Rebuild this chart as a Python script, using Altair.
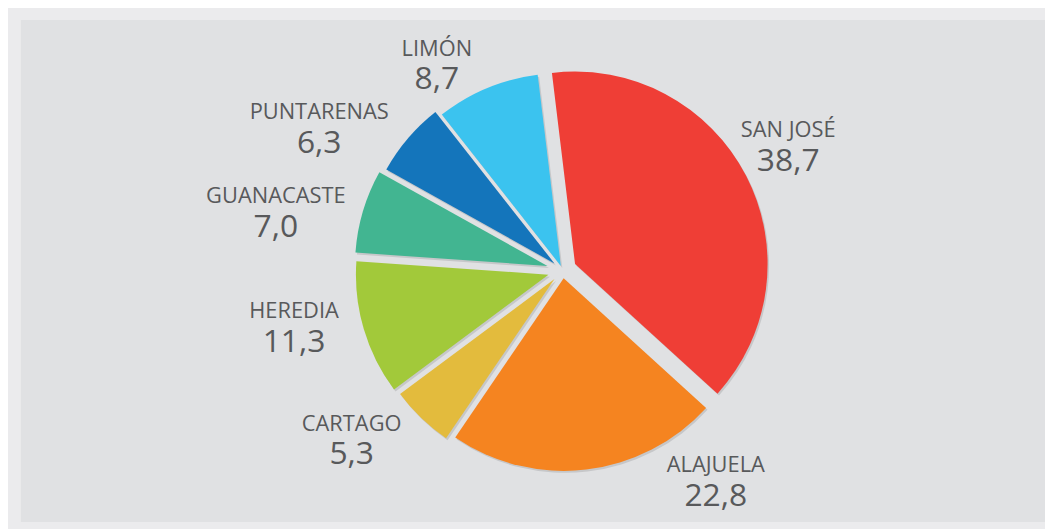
import math
import altair as alt
import pandas as pd

# ---- data ----
regions = ["SAN JOSÉ", "ALAJUELA", "CARTAGO", "HEREDIA", "GUANACASTE", "PUNTARENAS", "LIMÓN"]
shares = [38.7, 22.8, 5.3, 11.3, 7.0, 6.3, 8.7]
value_labels = ["38,7", "22,8", "5,3", "11,3", "7,0", "6,3", "8,7"]
colors = ["#ef3e36", "#f58420", "#e3bb3d", "#a2c93a", "#42b591", "#1475bb", "#3bc3ef"]

# ---- style / layout settings ----
CX, CY = 546.0, 252.5          # pie centre inside the plot panel (px)
R = 194                        # pie radius (px)
START = -6.9 * math.pi / 180   # angle of the first slice edge
explode = {"SAN JOSÉ": 14, "ALAJUELA": 8, "CARTAGO": 12, "HEREDIA": 15,
           "GUANACASTE": 16, "PUNTARENAS": 11, "LIMÓN": 5}
label_shift_deg = {"SAN JOSÉ": -3.3, "ALAJUELA": -30.5, "CARTAGO": 9.0, "HEREDIA": 6.3,
                   "GUANACASTE": -3.3, "PUNTARENAS": -8.6, "LIMÓN": -7.8}
label_radius = {"SAN JOSÉ": 264, "ALAJUELA": 255, "CARTAGO": 267, "HEREDIA": 275,
                "GUANACASTE": 297, "PUNTARENAS": 289, "LIMÓN": 251}
TEXT = "#58595b"
FONT = "Open Sans"

df = pd.DataFrame({
    "idx": list(range(len(regions))),
    "region": regions,
    "share": shares,
    "vlabel": value_labels,
    "explode": [explode[r] for r in regions],
    "lshift": [label_shift_deg[r] for r in regions],
    "lrad": [label_radius[r] for r in regions],
})

base = alt.Chart(df).transform_window(
    cum="sum(share)", sort=[alt.SortField("idx")], frame=[None, 0]
).transform_joinaggregate(
    total="sum(share)"
).transform_calculate(
    mid=f"{START} + 2*PI*(datum.cum - datum.share/2)/datum.total"
).transform_calculate(
    cx=f"{CX} + datum.explode*sin(datum.mid)",
    cy=f"{CY} - datum.explode*cos(datum.mid)",
    la="datum.mid + datum.lshift*PI/180",
).transform_calculate(
    sx="datum.cx + 1.5",
    sy="datum.cy + 2",
    lx=f"{CX} + datum.lrad*sin(datum.la)",
    ly=f"{CY} - datum.lrad*cos(datum.la)",
)

theta = alt.Theta("share:Q", stack=True,
                  scale=alt.Scale(range=[START, START + 2 * math.pi]))
order = alt.Order("idx:Q")

shadow = base.mark_arc(radius=R, color="#c6c7c9").encode(
    theta=theta, order=order,
    x=alt.X("sx:Q", scale=None), y=alt.Y("sy:Q", scale=None),
)

slices = base.mark_arc(radius=R).encode(
    theta=theta, order=order,
    x=alt.X("cx:Q", scale=None), y=alt.Y("cy:Q", scale=None),
    color=alt.Color("region:N", scale=alt.Scale(domain=regions, range=colors), legend=None),
)

names = base.mark_text(font=FONT, fontSize=22, color=TEXT, align="center",
                       baseline="alphabetic").encode(
    x=alt.X("lx:Q", scale=None), y=alt.Y("ly:Q", scale=None), text="region:N")

values = base.mark_text(font=FONT, fontSize=32, color=TEXT, align="center",
                        baseline="alphabetic", dy=34).encode(
    x=alt.X("lx:Q", scale=None), y=alt.Y("ly:Q", scale=None), text="vlabel:N")

chart = alt.layer(shadow, slices, names, values).properties(
    width=1032, height=506,
    padding={"left": 13, "top": 10, "right": 0, "bottom": 5},
    autosize=alt.AutoSizeParams(type="none"),
    background="#ebebed",
).configure_view(fill="#e0e1e3", stroke=None)

chart.save("out.html", embed_options={"renderer": "svg", "actions": False})
